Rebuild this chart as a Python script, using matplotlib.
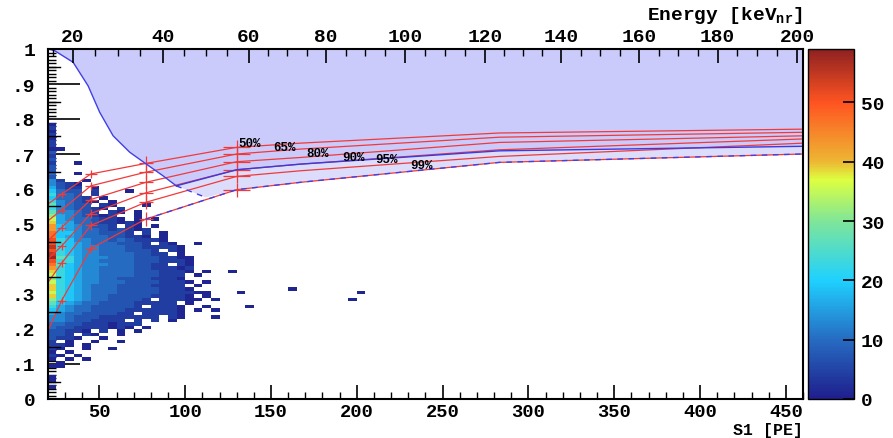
import numpy as np
import matplotlib
matplotlib.use('Agg')
import matplotlib.pyplot as plt
from matplotlib.colors import LinearSegmentedColormap

plt.rcParams['font.family'] = ['Liberation Mono', 'DejaVu Sans Mono']
plt.rcParams['font.weight'] = 'bold'
plt.rcParams['mathtext.fontset'] = 'custom'
plt.rcParams['mathtext.rm'] = 'Liberation Mono:bold'
plt.rcParams['mathtext.bf'] = 'Liberation Mono:bold'

# ---------------- data ----------------
# 2D histogram (S1 bins of 5 PE starting at 20, y bins of 0.01), rows from y=0.79 down to 0.00
hist_s1_start = 20
hist_s1_width = 5
hist_y_width = 0.01
count_codes = {'.': 0, '1': 1, '2': 4, '3': 7, '4': 10, '5': 13, '6': 16, '7': 19,
               '8': 23, '9': 27, 'A': 31, 'B': 35, 'C': 39, 'D': 43, 'E': 47,
               'F': 51, 'G': 55, 'H': 58}
hist_rows = [
    "",                      # 0.79
    "1",                     # 0.78
    "2",                     # 0.77
    "1",                     # 0.76
    "2",                     # 0.75
    "1",                     # 0.74
    "2",                     # 0.73
    "2",                     # 0.72
    "11",                    # 0.71
    "3",                     # 0.70
    "2",                     # 0.69
    "3",                     # 0.68
    "2..1",                  # 0.67
    "3",                     # 0.66
    "3",                     # 0.65
    "4..1",                  # 0.64
    "3",                     # 0.63
    "52..1",                 # 0.62
    "5321",                  # 0.61
    "6322.1",                # 0.60
    "7433.2...1",            # 0.59
    "8443.2",                # 0.58
    "74432.1",               # 0.57
    "854321.1",              # 0.56
    "95433.21...1",          # 0.55
    "8543321.2",             # 0.54
    "955432.21.1",           # 0.53
    "A6543212..1",           # 0.52
    "B65443221.1.1",         # 0.51
    "C6644322121",           # 0.50
    "D7654332.21.1",         # 0.49
    "D76544323212",          # 0.48
    "E775443332.2.1",        # 0.47
    "E76544433221.1",        # 0.46
    "F8755443432221",        # 0.45
    "F87654443332.21..1",    # 0.44
    "G876554443322221",      # 0.43
    "F876554443332.21",      # 0.42
    "G8765544443322.1",      # 0.41
    "H9865554443332211",     # 0.40
    "F8865544443332221",     # 0.39
    "E9765554443322.21",     # 0.38
    "D8765544443322212",     # 0.37
    "C8765544443332221.1",   # 0.36
    "B876554444333222.1",    # 0.35
    "A876554433332221",      # 0.34
    "B8765544433332221.1",   # 0.33
    "C876544433332222.1",    # 0.32
    "C8765444333332221",     # 0.31
    "B876544433333222211",   # 0.30
    "C8765443333322221.1",   # 0.29
    "A87654433332.22211.1",  # 0.28
    "976544333322222.1",     # 0.27
    "86544333332.2221..1",   # 0.26
    "7654433332222221.1.1",  # 0.25
    "6544333322.22221",      # 0.24
    "5543332222222.21...1",  # 0.23
    "554332222.2.2.1",       # 0.22
    "44332221222",           # 0.21
    "4332222121.1",          # 0.20
    "33221.2.1.1",           # 0.19
    "332.21..1",             # 0.18
    "3221..1",               # 0.17
    "2.1..1..1",             # 0.16
    "221.1",                 # 0.15
    "21..1..1",              # 0.14
    "1.1",                   # 0.13
    "21.1",                  # 0.12
    "1.1.1",                 # 0.11
    ".1",                    # 0.10
    "11",                    # 0.09
    "",                      # 0.08
    "",                      # 0.07
    "1",                     # 0.06
    "1",                     # 0.05
    "",                      # 0.04
    "1",                     # 0.03
    "",                      # 0.02
    "",                      # 0.01
    "",                      # 0.00
]
# isolated entries far from the main population (bin lower edges)
sparse_s1 = [125, 130, 135, 160, 195, 200]
sparse_y = [0.36, 0.30, 0.26, 0.31, 0.28, 0.30]
sparse_n = [1, 1, 1, 1, 1, 1]

# acceptance lines
accept_s1 = [20, 28, 45, 77, 130, 167, 283, 460]
acc50 = [0.557, 0.585, 0.643, 0.673, 0.719, 0.731, 0.760, 0.771]
acc65 = [0.509, 0.540, 0.609, 0.648, 0.700, 0.714, 0.748, 0.762]
acc80 = [0.452, 0.490, 0.570, 0.619, 0.678, 0.690, 0.733, 0.752]
acc90 = [0.400, 0.437, 0.530, 0.589, 0.655, 0.671, 0.712, 0.743]
acc95 = [0.333, 0.388, 0.496, 0.562, 0.636, 0.652, 0.693, 0.731]
acc99 = [0.195, 0.281, 0.430, 0.514, 0.598, 0.619, 0.676, 0.700]
acc_labels = ['50%', '65%', '80%', '90%', '95%', '99%']
label_s1 = [130.8, 151.2, 170.4, 191.4, 210.6, 231.0]
label_y = [0.731, 0.719, 0.703, 0.691, 0.686, 0.669]

marker_s1 = [28, 45, 77, 130]
marker_xerr = [2.5, 3.5, 4.0, 8.0]
marker_yerr = [0.010, 0.012, 0.020, 0.020]

# blue boundary curve of the shaded region
curve_s1 = [20, 24, 34.7, 43.4, 50.2, 58, 61.9, 67.7, 77.4, 87, 94.8]
curve_y = [1.0, 0.995, 0.962, 0.895, 0.819, 0.752, 0.733, 0.705, 0.671, 0.638, 0.609]
joint_s1 = [94.8, 112]
joint_y = [0.609, 0.576]
blue_s1 = [94.8, 130, 167, 283, 460]
blue_y = [0.609, 0.655, 0.671, 0.709, 0.722]

# top energy axis
energy_keV = [15, 20, 40, 60, 80, 100, 120, 140, 160, 180, 200]
energy_s1 = [23.1, 34.4, 87.0, 137.0, 182.0, 228.1, 274.6, 319.2, 364.7, 410.2, 456.7]

cbar_ticks = [0, 10, 20, 30, 40, 50]
zmax = 59

# ---------------- figure ----------------
W, H = 893, 439
fig = plt.figure(figsize=(W / 100, H / 100), dpi=100)
ax = fig.add_axes([47.9 / W, 39 / H, (803 - 47.9) / W, 350 / H])
cax = fig.add_axes([808 / W, 39 / H, 46 / W, 350 / H])

ax.set_xlim(20, 460)
ax.set_ylim(0, 1)

# shaded regions
light = '#dcdcfb'
dark = '#cbcbfb'
i_j = 4  # index in accept arrays from which acc99 bounds the region (S1=130)
poly_x = [20, 460] + [460] + accept_s1[::-1][:len(accept_s1) - i_j] + joint_s1[::-1] + curve_s1[::-1]
poly_y = [1, 1] + [acc99[-1]] + acc99[::-1][:len(accept_s1) - i_j] + joint_y[::-1] + curve_y[::-1]
ax.fill(poly_x, poly_y, color=light, lw=0, zorder=1)
poly2_x = [20, 460] + blue_s1[::-1] + curve_s1[::-1]
poly2_y = [1, 1] + blue_y[::-1] + curve_y[::-1]
ax.fill(poly2_x, poly2_y, color=dark, lw=0, zorder=1)

# histogram
ncol = 37
code_list = [[count_codes[c] for c in r.ljust(ncol, '.')] for r in hist_rows]
counts = np.array(code_list, dtype=float)[::-1]  # row 0 -> y=0.00
for s, yv, n in zip(sparse_s1, sparse_y, sparse_n):
    counts[int(round(yv / hist_y_width)), int(round((s - hist_s1_start) / hist_s1_width))] = n
xedges = hist_s1_start + hist_s1_width * np.arange(ncol + 1)
yedges = hist_y_width * np.arange(counts.shape[0] + 1)

cmap = LinearSegmentedColormap.from_list('rootish', [
    (0.000, (0.12, 0.12, 0.55)),
    (0.169, (0.15, 0.42, 0.76)),
    (0.339, (0.12, 0.82, 1.00)),
    (0.508, (0.50, 0.90, 0.60)),
    (0.627, (0.87, 1.00, 0.25)),
    (0.678, (0.93, 0.72, 0.20)),
    (0.847, (1.00, 0.33, 0.13)),
    (1.000, (0.56, 0.13, 0.13)),
])
mesh = ax.pcolormesh(xedges, yedges, np.ma.masked_equal(counts, 0), cmap=cmap,
                     vmin=0, vmax=zmax, zorder=2)

# acceptance lines
red = '#f03a3a'
for acc in [acc50, acc65, acc80, acc90, acc95, acc99]:
    ax.plot(accept_s1, acc, color=red, lw=0.9, zorder=4)
    idx = [accept_s1.index(s) for s in marker_s1]
    ax.errorbar(marker_s1, [acc[i] for i in idx], xerr=marker_xerr, yerr=marker_yerr,
                fmt='none', ecolor=red, elinewidth=0.9, capsize=0, zorder=4)
ax.plot(accept_s1[i_j - 1:], acc99[i_j - 1:], color='#4040e8', lw=1.0, ls=(0, (4, 4)), zorder=5)
ax.plot(curve_s1, curve_y, color='#4040e8', lw=1.0, zorder=5)
ax.plot(joint_s1, joint_y, color='#4040e8', lw=1.0, ls=(0, (4, 4)), zorder=5)
ax.plot(blue_s1, blue_y, color='#3a3ae0', lw=1.0, zorder=5)
ax.plot([460, 460], [acc99[-1], 1], color='#4040e8', lw=1.0, ls=(0, (4, 4)), zorder=5)

for t, xs, ys in zip(acc_labels, label_s1, label_y):
    ax.text(xs, ys, t, fontsize=9, ha='left', va='center', color='black', zorder=6)

# axes ticks
ax.set_xticks([50, 100, 150, 200, 250, 300, 350, 400, 450])
ax.set_xticks(np.arange(30, 461, 10), minor=True)
ax.set_yticks(np.arange(0, 1.01, 0.1))
ax.set_yticks(np.arange(0, 1.001, 0.01), minor=True)
ax.set_yticklabels(['0', '.1', '.2', '.3', '.4', '.5', '.6', '.7', '.8', '.9', '1'])
ax.tick_params(axis='x', which='major', direction='in', length=10, width=1.2, labelsize=13.5, pad=3,
               top=False)
ax.tick_params(axis='x', which='minor', direction='in', length=5, width=1.0, top=False)
ax.tick_params(axis='y', which='major', direction='in', length=23, width=1.2, labelsize=14, pad=9,
               right=False)
ax.tick_params(axis='y', which='minor', direction='in', length=6, width=1.0, right=False)
for yv in np.arange(0.05, 1.0, 0.1):
    ax.plot([20, 20 + 12 / 1.716], [yv, yv], color='black', lw=1.0, zorder=6, clip_on=False)
for sp in ax.spines.values():
    sp.set_linewidth(1.5)
    sp.set_zorder(7)

ax2 = ax.twiny()
ax2.set_xlim(20, 460)
major_e = energy_keV[1:]
major_pos = energy_s1[1:]
ax2.set_xticks(major_pos)
ax2.set_xticklabels([str(e) for e in major_e])
minor_e = [e for e in range(15, 200, 5) if e % 20 != 0]
ax2.set_xticks(np.interp(minor_e, energy_keV, energy_s1), minor=True)
ax2.tick_params(axis='x', which='major', direction='in', length=10, width=1.2, labelsize=14, pad=3)
ax2.tick_params(axis='x', which='minor', direction='in', length=5, width=1.0)
for sp in ax2.spines.values():
    sp.set_visible(False)

fig.text(803 / W, 1 - 16 / H, r'Energy [keV$_{\mathrm{nr}}$]', ha='right', va='center', fontsize=14)
fig.text(803 / W, 1 - 438.5 / H, 'S1 [PE]', ha='right', va='bottom', fontsize=12)

cb = fig.colorbar(mesh, cax=cax, ticks=cbar_ticks)
cb.outline.set_linewidth(1.0)
cax.tick_params(direction='in', length=8, width=1.2, labelsize=14, pad=5, right=True)
cax.yaxis.set_ticks_position('right')

fig.savefig('out.png', dpi=100)
